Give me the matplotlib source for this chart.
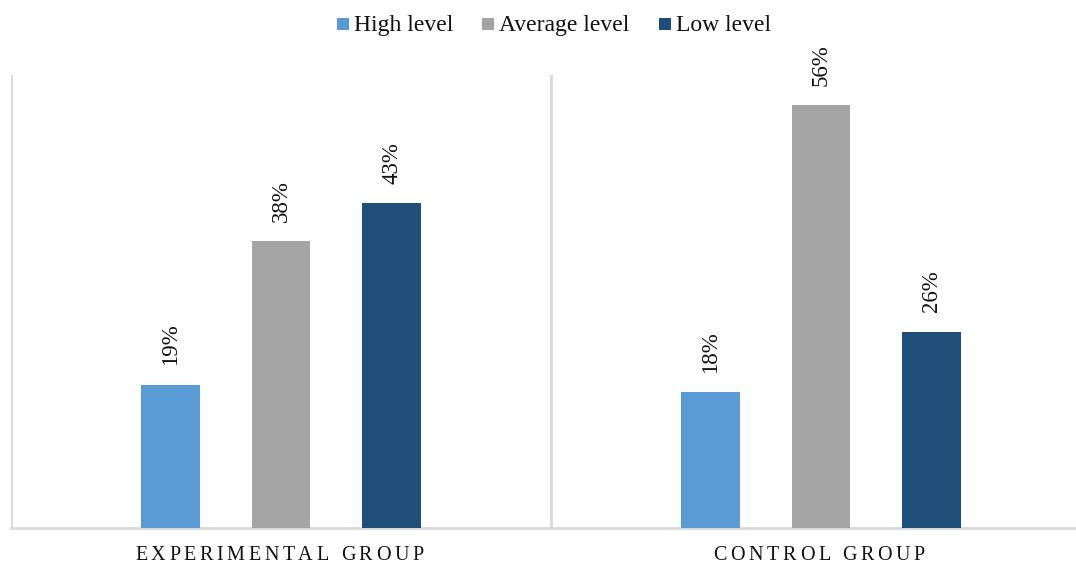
import numpy as np
import matplotlib
matplotlib.use('Agg')
import matplotlib.pyplot as plt
from matplotlib.patches import Rectangle

plt.rcParams['font.family'] = ['Liberation Serif', 'DejaVu Serif']

groups = ['EXPERIMENTAL GROUP', 'CONTROL GROUP']
levels = ['High level', 'Average level', 'Low level']
high = [19, 18]
average = [38, 56]
low = [43, 26]

colors = ['#5b9bd5', '#a5a5a5', '#1f4e79']
series = [high, average, low]

fig = plt.figure(figsize=(10.76, 5.64), dpi=100)
W, H = 1076, 564
ax = fig.add_axes([11 / W, (H - 528) / H, 1080 / W, (528 - 75) / H])

x = np.arange(len(groups))
offsets = [-0.205, 0, 0.205]
bar_w = 0.109

for vals, off, col in zip(series, offsets, colors):
    bars = ax.bar(x + off, vals, width=bar_w, color=col, zorder=3)
    for b, v in zip(bars, vals):
        ax.annotate(f'{v}%', (b.get_x() + b.get_width() / 2, v),
                    xytext=(0, 14), textcoords='offset points',
                    rotation=90, ha='center', va='bottom',
                    fontsize=16.5, color='#111111')

ax.set_xlim(-0.5, 1.5)
ax.set_ylim(0, 60)
for xv in [-0.5, 0.5, 1.5]:
    ax.axvline(xv, color='#d9d9d9', lw=2, zorder=1)
for s in ['top', 'right', 'left']:
    ax.spines[s].set_visible(False)
ax.spines['bottom'].set_color('#d9d9d9')
ax.spines['bottom'].set_linewidth(2)
ax.set_yticks([])
ax.set_xticks([])

renderer = fig.canvas.get_renderer()


def text_width(s, size):
    t = fig.text(0, 0, s, fontsize=size)
    w = t.get_window_extent(renderer).width
    t.remove()
    return w


def spaced_label(xc, text, spacing, size):
    # draw text character by character with extra tracking
    widths = [text_width(ch, size) if ch != ' ' else text_width('n', size) * 0.5
              for ch in text]
    total = sum(widths) + spacing * len(text)
    x0 = ax.transData.transform((xc, 0))[0] - total / 2
    for ch, w in zip(text, widths):
        if ch != ' ':
            fig.text(x0 / W, (H - 555) / H, ch, fontsize=size,
                     ha='left', va='center', color='#111111')
        x0 += w + spacing


for xi, g in zip(x, groups):
    spaced_label(xi, g, 3.6, 14.5)

# legend row on a common baseline, centred over the full plot width
leg_size = 17
sq, pad, gap = 12, 5, 29
baseline = 31
widths = [text_width(s, leg_size) for s in levels]
total = sum(sq + pad + w for w in widths) + gap * (len(levels) - 1)
x0 = 554 - total / 2
for lab, col, w in zip(levels, colors, widths):
    fig.patches.append(Rectangle((x0 / W, (H - 30) / H), sq / W, sq / H,
                                 transform=fig.transFigure, facecolor=col,
                                 edgecolor='none'))
    fig.text((x0 + sq + pad) / W, (H - baseline) / H, lab, fontsize=leg_size,
             ha='left', va='baseline', color='#111111')
    x0 += sq + pad + w + gap

fig.savefig('out.png', dpi=100)
